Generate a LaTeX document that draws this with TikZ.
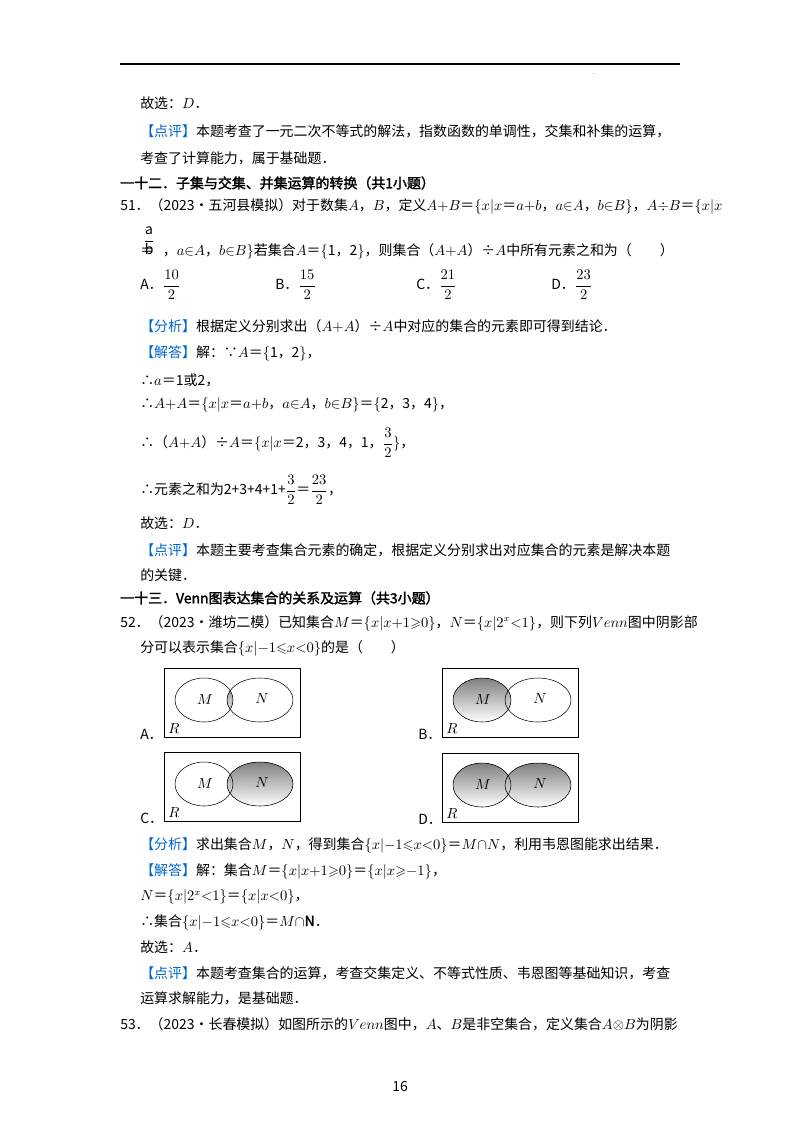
\documentclass[tikz,border=0pt]{standalone}
\usepackage{amsmath}
\usepackage{amssymb}
\usepackage{fontspec}
\setmainfont{Noto Sans CJK SC}[AutoFakeSlant=0.2,AutoFakeBold=2]
\usetikzlibrary{positioning}
\definecolor{tagblue}{RGB}{0,102,204}
\definecolor{shade}{RGB}{208,208,208}
\tikzstyle{txt} = [anchor=west, inner sep=0pt, font=\fontsize{10.5}{12}\selectfont]
\tikzstyle{head} = [txt, font=\fontsize{10.5}{12}\selectfont\bfseries]
\tikzstyle{box} = [draw, line width=0.5pt]
\newcommand{\btag}[1]{\textcolor{tagblue}{【#1】}}
\begin{document}
\begin{tikzpicture}[x=0.02646cm, y=-0.02646cm]
\useasboundingbox (0,0) rectangle (800,1132);
\draw [line width=0.8pt] (120,64) -- (680,64);
\node (Dot) [txt] at (592,74) {\tiny .};

\node (Ans50) [txt] at (140,103) {故选：$D$．};
\node (Rev50a) [txt] at (140,131) {\btag{点评}本题考查了一元二次不等式的解法，指数函数的单调性，交集和补集的运算，};
\node (Rev50b) [txt] at (140,158) {考查了计算能力，属于基础题．};

\node (Sec12) [head] at (120,183) {一十二．子集与交集、并集运算的转换（共1小题）};
\node (Q51) [txt] at (120,206) {51．（2023•五河县模拟）对于数集$A$，$B$，定义$A{+}B$＝$\{x|x$＝$a{+}b$，$a{\in}A$，$b{\in}B\}$，$A{\div}B$＝$\{x|x$};
\node (FracAB) [txt] at (143,241) {$\dfrac{\text{a}}{\text{b}}$};
\node (Q51b) [txt] at (140,251) {＝\phantom{b}，$a{\in}A$，$b{\in}B\}$若集合$A$＝$\{$1，2$\}$，则集合（$A{+}A$）÷$A$中所有元素之和为（\qquad）};
\node (OptA) [txt] at (140,285) {A．$\dfrac{10}{2}$};
\node (OptB) [txt] at (275,285) {B．$\dfrac{15}{2}$};
\node (OptC) [txt] at (416,285) {C．$\dfrac{21}{2}$};
\node (OptD) [txt] at (551,285) {D．$\dfrac{23}{2}$};

\node (Ana51) [txt] at (140,326) {\btag{分析}根据定义分别求出（$A{+}A$）÷$A$中对应的集合的元素即可得到结论．};
\node (Sol51) [txt] at (140,353) {\btag{解答}解：∵$A$＝$\{$1，2$\}$，};
\node (Sol51a) [txt] at (140,380) {∴$a$＝1或2，};
\node (Sol51b) [txt] at (140,405) {∴$A{+}A$＝$\{x|x$＝$a{+}b$，$a{\in}A$，$b{\in}B\}$＝$\{$2，3，4$\}$，};
\node (Sol51c) [txt] at (140,443) {∴（$A{+}A$）÷$A$＝$\{x|x$＝2，3，4，1，$\dfrac{3}{2}\}$，};
\node (Sol51d) [txt] at (140,490) {∴元素之和为2+3+4+1+$\dfrac{3}{2}$＝$\dfrac{23}{2}$，};
\node (Ans51) [txt] at (140,523) {故选：$D$．};
\node (Rev51a) [txt] at (140,550) {\btag{点评}本题主要考查集合元素的确定，根据定义分别求出对应集合的元素是解决本题};
\node (Rev51b) [txt] at (140,575) {的关键．};

\node (Sec13) [head] at (120,598) {一十三．Venn图表达集合的关系及运算（共3小题）};
\node (Q52) [txt] at (120,623) {52．（2023•潍坊二模）已知集合$M$＝$\{x|x{+}1{\geqslant}0\}$，$N$＝$\{x|2^x{<}1\}$，则下列$Venn$图中阴影部};
\node (Q52b) [txt] at (140,648) {分可以表示集合$\{x|{-}1{\leqslant}x{<}0\}$的是（\qquad）};

% four Venn options
\foreach \lab/\x/\y/\fm/\fn/\fx in {A/164/668/0/0/1, B/442/668/1/0/0, C/164/752/0/1/0, D/442/753/1/1/0}{
  \begin{scope}[shift={(\x,\y)}]
    \ifnum\fm=1 \fill [shade] (40,32) ellipse [x radius=29, y radius=22]; \fi
    \ifnum\fn=1 \fill [shade] (96,32) ellipse [x radius=33, y radius=22]; \fi
    \ifnum\fx=1
      \begin{scope}
        \clip (40,32) ellipse [x radius=29, y radius=22];
        \fill [shade] (96,32) ellipse [x radius=33, y radius=22];
      \end{scope}
    \fi
    \draw [box] (0,0) rectangle (136,69);
    \draw (40,32) ellipse [x radius=29, y radius=22];
    \draw (96,32) ellipse [x radius=33, y radius=22];
    \node (M\lab) [txt, anchor=center] at (41,32) {$M$};
    \node (N\lab) [txt, anchor=center] at (98,31) {$N$};
    \node (R\lab) [txt] at (4,61) {$R$};
    \node (L\lab) [txt] at (-24,66) {\lab．};
  \end{scope}
}

\node (Ana52) [txt] at (140,845) {\btag{分析}求出集合$M$，$N$，得到集合$\{x|{-}1{\leqslant}x{<}0\}$＝$M{\cap}N$，利用韦恩图能求出结果．};
\node (Sol52) [txt] at (140,871) {\btag{解答}解：集合$M$＝$\{x|x{+}1{\geqslant}0\}$＝$\{x|x{\geqslant}{-}1\}$，};
\node (Sol52a) [txt] at (140,897) {$N$＝$\{x|2^x{<}1\}$＝$\{x|x{<}0\}$，};
\node (Sol52b) [txt] at (140,922) {∴集合$\{x|{-}1{\leqslant}x{<}0\}$＝$M{\cap}\mathbf{N}$．};
\node (Ans52) [txt] at (140,947) {故选：$A$．};
\node (Rev52a) [txt] at (140,973) {\btag{点评}本题考查集合的运算，考查交集定义、不等式性质、韦恩图等基础知识，考查};
\node (Rev52b) [txt] at (140,998) {运算求解能力，是基础题．};
\node (Q53) [txt] at (120,1024) {53．（2023•长春模拟）如图所示的$Venn$图中，$A$、$B$是非空集合，定义集合$A{\otimes}B$为阴影};

\node (Page) [txt, anchor=center] at (400,1087) {16};
\end{tikzpicture}
\end{document}
